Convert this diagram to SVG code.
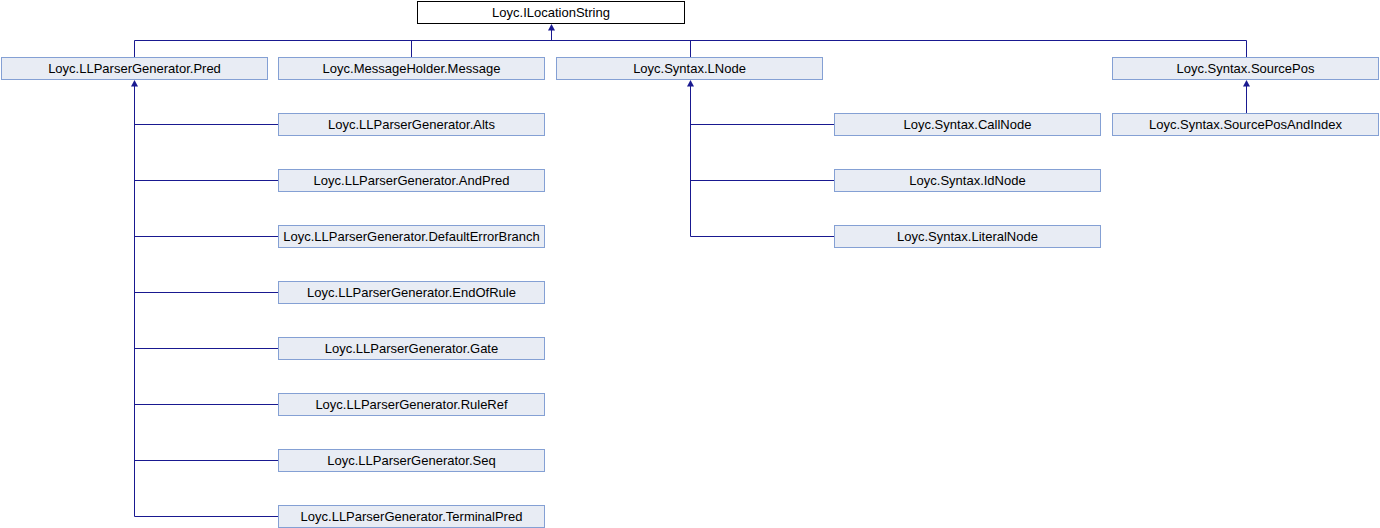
<svg xmlns="http://www.w3.org/2000/svg" width="1380" height="528" viewBox="0 0 1380 528">
  <style>
    .node rect { fill: #E8ECF4; stroke: #84A0D4; stroke-width: 1; }
    .node.root rect { fill: #FFFFFF; stroke: #000000; }
    .node text { font-family: "Liberation Sans", Arial, sans-serif; font-size: 13px; fill: #000000; text-anchor: middle; }
    .edges path { fill: none; stroke: #191990; stroke-width: 1; }
    .edges polygon { fill: #191990; stroke: none; }
  </style>

  <rect x="0" y="0" width="1380" height="528" fill="#FFFFFF"/>

  <!-- inheritance connectors -->
  <g id="connectors" class="edges">
    <!-- bus to Loyc.ILocationString -->
    <path d="M551.5 30 V40.5 M134.5 40.5 H1246.5 M134.5 40.5 V57 M411.5 40.5 V57 M690.5 40.5 V57 M1246.5 40.5 V57"/>
    <polygon points="551.5,24 548,30.5 555,30.5"/>
    <!-- Pred subclasses -->
    <path d="M134.5 86 V516.5 M134.5 124.5 H278 M134.5 180.5 H278 M134.5 236.5 H278 M134.5 292.5 H278 M134.5 348.5 H278 M134.5 404.5 H278 M134.5 460.5 H278 M134.5 516.5 H278"/>
    <polygon points="134.5,80 131,86.5 138,86.5"/>
    <!-- LNode subclasses -->
    <path d="M690.5 86 V236.5 M690.5 124.5 H834 M690.5 180.5 H834 M690.5 236.5 H834"/>
    <polygon points="690.5,80 687,86.5 694,86.5"/>
    <!-- SourcePos subclass -->
    <path d="M1246.5 86 V113"/>
    <polygon points="1246.5,80 1243,86.5 1250,86.5"/>
  </g>

  <g id="ILocationString" class="node root">
    <rect x="417.5" y="1.5" width="267" height="22"/>
    <text x="551" y="16.5">Loyc.ILocationString</text>
  </g>

  <g id="Pred" class="node">
    <rect x="1.5" y="57.5" width="266" height="22"/>
    <text x="134.5" y="72.5">Loyc.LLParserGenerator.Pred</text>
  </g>
  <g id="Message" class="node">
    <rect x="278.5" y="57.5" width="266" height="22"/>
    <text x="411.5" y="72.5">Loyc.MessageHolder.Message</text>
  </g>
  <g id="LNode" class="node">
    <rect x="556.5" y="57.5" width="266" height="22"/>
    <text x="689.5" y="72.5">Loyc.Syntax.LNode</text>
  </g>
  <g id="SourcePos" class="node">
    <rect x="1112.5" y="57.5" width="266" height="22"/>
    <text x="1245.5" y="72.5">Loyc.Syntax.SourcePos</text>
  </g>

  <g id="Alts" class="node">
    <rect x="278.5" y="113.5" width="266" height="22"/>
    <text x="411.5" y="128.5">Loyc.LLParserGenerator.Alts</text>
  </g>
  <g id="AndPred" class="node">
    <rect x="278.5" y="169.5" width="266" height="22"/>
    <text x="411.5" y="184.5">Loyc.LLParserGenerator.AndPred</text>
  </g>
  <g id="DefaultErrorBranch" class="node">
    <rect x="278.5" y="225.5" width="266" height="22"/>
    <text x="411.5" y="240.5">Loyc.LLParserGenerator.DefaultErrorBranch</text>
  </g>
  <g id="EndOfRule" class="node">
    <rect x="278.5" y="281.5" width="266" height="22"/>
    <text x="411.5" y="296.5">Loyc.LLParserGenerator.EndOfRule</text>
  </g>
  <g id="Gate" class="node">
    <rect x="278.5" y="337.5" width="266" height="22"/>
    <text x="411.5" y="352.5">Loyc.LLParserGenerator.Gate</text>
  </g>
  <g id="RuleRef" class="node">
    <rect x="278.5" y="393.5" width="266" height="22"/>
    <text x="411.5" y="408.5">Loyc.LLParserGenerator.RuleRef</text>
  </g>
  <g id="Seq" class="node">
    <rect x="278.5" y="449.5" width="266" height="22"/>
    <text x="411.5" y="464.5">Loyc.LLParserGenerator.Seq</text>
  </g>
  <g id="TerminalPred" class="node">
    <rect x="278.5" y="505.5" width="266" height="22"/>
    <text x="411.5" y="520.5">Loyc.LLParserGenerator.TerminalPred</text>
  </g>

  <g id="CallNode" class="node">
    <rect x="834.5" y="113.5" width="266" height="22"/>
    <text x="967.5" y="128.5">Loyc.Syntax.CallNode</text>
  </g>
  <g id="IdNode" class="node">
    <rect x="834.5" y="169.5" width="266" height="22"/>
    <text x="967.5" y="184.5">Loyc.Syntax.IdNode</text>
  </g>
  <g id="LiteralNode" class="node">
    <rect x="834.5" y="225.5" width="266" height="22"/>
    <text x="967.5" y="240.5">Loyc.Syntax.LiteralNode</text>
  </g>

  <g id="SourcePosAndIndex" class="node">
    <rect x="1112.5" y="113.5" width="266" height="22"/>
    <text x="1245.5" y="128.5">Loyc.Syntax.SourcePosAndIndex</text>
  </g>
</svg>
